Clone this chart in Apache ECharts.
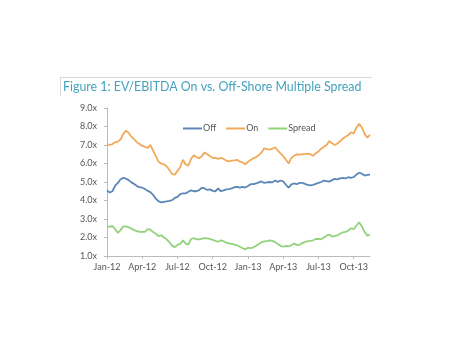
<!DOCTYPE html>
<html><head><meta charset="utf-8">
<script src="https://cdn.jsdelivr.net/npm/echarts@6/dist/echarts.min.js"></script>
<style>html,body{margin:0;padding:0;background:#fff}#c{width:474px;height:355px}</style>
</head><body><div id="c"></div>
<script>
const titleText = 'Figure 1: EV/EBITDA On vs. Off-Shore Multiple Spread';
const tickLabels = ['Jan-12','Apr-12','Jul-12','Oct-12','Jan-13','Apr-13','Jul-13','Oct-13'];
const weeksPerTick = 13;
const yTicks = [1,2,3,4,5,6,7,8,9];

const offValues = [4.55,4.43,4.5,4.8,4.95,5.15,5.22,5.18,5.1,4.98,4.9,4.78,4.72,4.69,4.62,4.52,4.45,4.3,4.1,3.96,3.9,3.93,3.95,3.98,4.02,4.14,4.2,4.35,4.38,4.38,4.47,4.55,4.5,4.5,4.56,4.69,4.65,4.57,4.6,4.52,4.5,4.65,4.5,4.55,4.6,4.62,4.65,4.72,4.74,
4.7,4.74,4.7,4.78,4.88,4.88,4.92,4.98,5.03,4.95,4.98,5.0,4.98,5.08,5.01,5.08,5.03,4.85,4.7,4.87,4.92,4.88,4.95,4.95,4.9,4.85,4.82,4.85,4.9,4.95,5.0,5.08,5.05,5.02,5.1,5.17,5.14,5.2,5.22,5.19,5.26,5.22,5.27,5.4,5.5,5.45,5.35,5.38,5.4];

const onValues = [7.05,7.0,7.05,7.15,7.18,7.3,7.6,7.78,7.65,7.45,7.3,7.15,7.05,6.95,6.9,6.85,7.0,6.7,6.4,6.1,6.0,5.95,5.85,5.65,5.42,5.4,5.6,5.8,6.2,5.95,5.88,6.25,6.45,6.35,6.28,6.4,6.6,6.5,6.4,6.3,6.3,6.25,6.3,6.25,6.15,6.12,6.15,6.17,6.2,
6.1,6.06,5.95,6.1,6.19,6.28,6.35,6.45,6.6,6.82,6.78,6.75,6.8,6.88,6.7,6.55,6.4,6.2,6.0,6.3,6.42,6.5,6.48,6.5,6.51,6.53,6.5,6.42,6.55,6.65,6.8,6.9,7.0,7.22,7.09,7.0,7.08,7.2,7.35,7.45,7.54,7.68,7.63,7.94,8.15,7.95,7.6,7.4,7.55];

const spreadValues = [2.6,2.57,2.63,2.45,2.25,2.4,2.6,2.6,2.55,2.48,2.4,2.35,2.3,2.3,2.3,2.45,2.42,2.3,2.2,2.08,2.12,2.0,1.9,1.75,1.55,1.48,1.6,1.65,1.85,1.67,1.62,1.92,1.97,1.9,1.9,1.94,1.97,1.95,1.92,1.87,1.82,1.77,1.85,1.8,1.72,1.68,1.65,1.62,1.58,
1.5,1.42,1.36,1.45,1.43,1.47,1.55,1.65,1.75,1.79,1.8,1.85,1.82,1.75,1.65,1.55,1.5,1.55,1.52,1.58,1.67,1.6,1.6,1.7,1.75,1.8,1.82,1.85,1.92,1.93,1.9,2.0,2.1,2.16,2.05,2.08,2.12,2.2,2.28,2.3,2.38,2.5,2.45,2.65,2.82,2.6,2.3,2.1,2.15];

const categories = offValues.map((v, i) => 'W' + i);

const font = 'Lato, "Open Sans", sans-serif';
const chart = echarts.init(document.getElementById('c'), null, {renderer: 'canvas'});
chart.setOption({
  animation: false,
  backgroundColor: '#ffffff',
  graphic: [
    {type: 'line', shape: {x1: 60, y1: 77.5, x2: 372, y2: 77.5}, style: {stroke: '#d8d8d8', lineWidth: 1}},
    {type: 'line', shape: {x1: 60.5, y1: 77, x2: 60.5, y2: 96}, style: {stroke: '#d8d8d8', lineWidth: 1}},
    {type: 'text', left: 63, top: 81, style: {text: titleText, fill: '#44a2bd', font: '12.4px ' + font}}
  ],
  legend: {
    top: 119, left: 178,
    itemWidth: 19, itemHeight: 2, itemGap: 10,
    icon: 'rect',
    textStyle: {color: '#555', fontSize: 9, fontFamily: font, padding: [0,0,0,-4]},
    data: ['Off', 'On', 'Spread']
  },
  grid: {left: 107, right: 104, top: 108, bottom: 99, containLabel: false},
  xAxis: {
    type: 'category', data: categories, boundaryGap: false,
    axisLine: {lineStyle: {color: '#bbbbbb'}},
    axisTick: {show: true, length: 3, interval: (i) => i % weeksPerTick === 0, lineStyle: {color: '#bbbbbb'}},
    axisLabel: {interval: (i) => i % weeksPerTick === 0, formatter: (v, i) => tickLabels[i / weeksPerTick] || '', color: '#555', fontSize: 9, fontFamily: font, margin: 7},
    splitLine: {show: false}
  },
  yAxis: {
    type: 'value', min: 1, max: 9, interval: 1,
    axisLine: {show: true, lineStyle: {color: '#bbbbbb'}},
    axisTick: {show: true, length: 3, lineStyle: {color: '#bbbbbb'}},
    axisLabel: {formatter: (v) => v.toFixed(1) + 'x', color: '#555', fontSize: 9, fontFamily: font, margin: 10},
    splitLine: {show: false}
  },
  series: [
    {name: 'Off', type: 'line', data: offValues, showSymbol: false, symbol: 'none', lineStyle: {width: 1.8, color: '#5b86b6'}, itemStyle: {color: '#5b86b6'}},
    {name: 'On', type: 'line', data: onValues, showSymbol: false, symbol: 'none', lineStyle: {width: 1.8, color: '#f0aa5a'}, itemStyle: {color: '#f0aa5a'}},
    {name: 'Spread', type: 'line', data: spreadValues, showSymbol: false, symbol: 'none', lineStyle: {width: 1.8, color: '#92d27c'}, itemStyle: {color: '#92d27c'}}
  ]
});
</script></body></html>
